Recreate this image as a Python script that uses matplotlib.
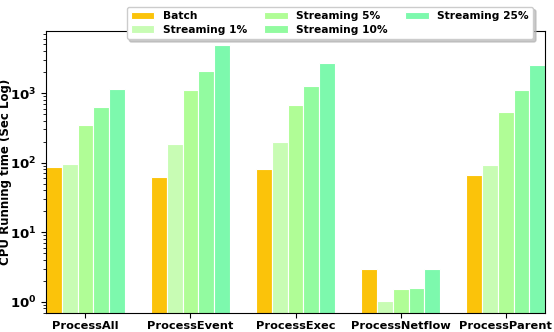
import numpy as np
import matplotlib
matplotlib.use("Agg")
import matplotlib.pyplot as plt

categories = ["ProcessAll", "ProcessEvent", "ProcessExec", "ProcessNetflow", "ProcessParent"]
series_names = ["Batch", "Streaming 1%", "Streaming 5%", "Streaming 10%", "Streaming 25%"]
batch = [88, 63, 82, 2.95, 66]
stream_1 = [97, 186, 199, 1.02, 93]
stream_5 = [350, 1110, 683, 1.52, 542]
stream_10 = [640, 2085, 1280, 1.59, 1120]
stream_25 = [1150, 4890, 2690, 2.95, 2520]
colors = ["#FBC30A", "#C8FCB4", "#B0FD96", "#92FBA0", "#7DF9AD"]

series = [batch, stream_1, stream_5, stream_10, stream_25]

plt.rcParams["font.family"] = ["DejaVu Sans"]
plt.rcParams["font.weight"] = "bold"

fig = plt.figure(figsize=(5.54, 3.32), dpi=100)
ax = fig.add_axes([0.083, 0.057, 0.901, 0.850])

x = np.arange(len(categories))
width = 0.15
for i, (name, vals, c) in enumerate(zip(series_names, series, colors)):
    ax.bar(x + (i - 2) * width, vals, width, label=name, color=c,
           edgecolor="white", linewidth=0.8, log=True)

ax.set_yscale("log")
ax.set_ylim(0.687, 7850)
ax.set_xlim(-0.375, 4.375)
ax.set_xticks(x)
ax.set_xticklabels(categories, fontsize=8.2, fontweight="bold")
ax.tick_params(axis="y", labelsize=9.5)
ax.tick_params(axis="x", pad=2)
for lbl in ax.get_yticklabels():
    lbl.set_fontweight("bold")
ax.set_ylabel("CPU Running time (Sec Log)", fontsize=8.5, fontweight="bold")
ax.yaxis.set_label_coords(-0.068, 0.5)

leg = ax.legend(ncol=3, loc="upper right", bbox_to_anchor=(0.976, 1.085),
                borderaxespad=0, framealpha=1, edgecolor="#cccccc",
                shadow={"color": "0.7", "alpha": 0.7},
                prop={"weight": "bold", "size": 7.7},
                handlelength=2.2, columnspacing=1.6, labelspacing=0.35)

fig.savefig("out.png", dpi=100)
